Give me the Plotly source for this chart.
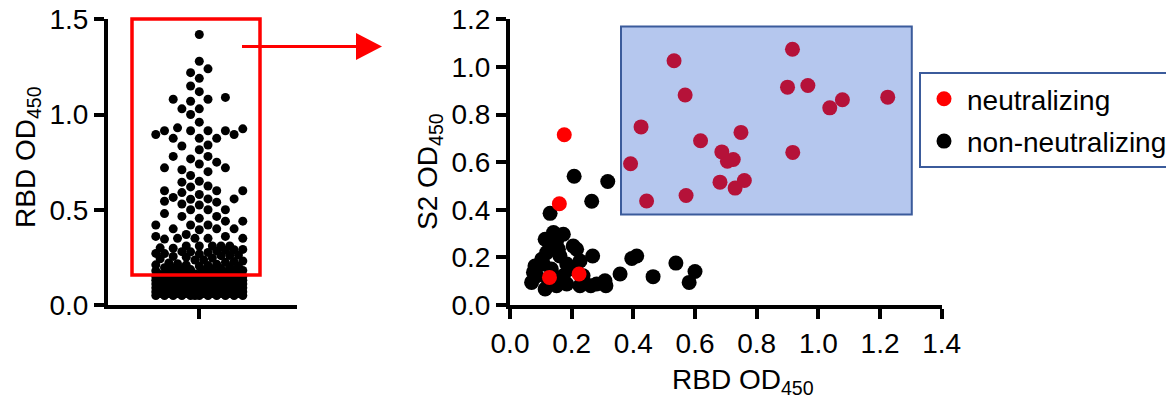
import numpy as np
import plotly.graph_objects as go

W, H = 1166, 401

# ---------------- data: left panel (RBD OD450 of all samples) ----------------
rbd_upper = [1.42, 1.28, 1.24, 1.22, 1.19, 1.15, 1.12, 1.09, 1.08, 1.08, 1.07, 1.03,
             1.03, 1.00, 0.96, 0.93, 0.925, 0.915, 0.915, 0.915, 0.915, 0.895, 0.895,
             0.875, 0.875, 0.875, 0.835, 0.84, 0.815, 0.78, 0.78, 0.767, 0.75, 0.74,
             0.72, 0.72, 0.71, 0.70, 0.68, 0.65, 0.645, 0.625, 0.62, 0.60, 0.60, 0.60,
             0.59, 0.58, 0.565, 0.557, 0.555, 0.557, 0.545, 0.54, 0.53, 0.525, 0.50,
             0.50, 0.50, 0.48, 0.465, 0.465, 0.455, 0.44, 0.44, 0.42, 0.42, 0.42, 0.40,
             0.395, 0.40, 0.40, 0.37, 0.36, 0.36, 0.35, 0.35, 0.35, 0.346, 0.35, 0.31,
             0.31, 0.31, 0.31, 0.31, 0.30]
rbd_mid = [0.298, 0.292, 0.287, 0.284, 0.279, 0.276, 0.271, 0.268, 0.262, 0.259, 0.255,
           0.251, 0.247, 0.243, 0.238, 0.236, 0.231, 0.228, 0.224, 0.221, 0.217, 0.214,
           0.211, 0.208, 0.205, 0.203, 0.199, 0.196, 0.193, 0.191, 0.188, 0.186, 0.183,
           0.181, 0.178, 0.176, 0.174, 0.172, 0.169, 0.167, 0.165, 0.163, 0.161, 0.26,
           0.27, 0.28, 0.29, 0.21, 0.19, 0.18]
# dense low block read as value levels with approximate counts
rbd_block_levels = [0.05, 0.06, 0.07, 0.08, 0.09, 0.10, 0.11, 0.12, 0.13, 0.14, 0.15, 0.16]
rbd_block_counts = [12, 16, 18, 18, 17, 16, 15, 14, 13, 12, 11, 10]

# ---------------- data: right panel (RBD vs S2) ----------------
neut_rbd = [0.532, 0.568, 0.425, 0.391, 0.443, 0.571, 0.618, 0.687, 0.705, 0.724, 0.749,
            0.681, 0.730, 0.760, 0.916, 0.900, 0.966, 1.037, 1.078, 1.225, 0.917,
            0.160, 0.128, 0.224, 0.176]
neut_s2 = [1.026, 0.882, 0.748, 0.593, 0.437, 0.460, 0.690, 0.643, 0.604, 0.611, 0.725,
           0.516, 0.491, 0.523, 1.074, 0.915, 0.922, 0.828, 0.862, 0.873, 0.641,
           0.425, 0.116, 0.130, 0.715]
non_rbd = [0.208, 0.317, 0.265, 0.130, 0.268, 0.395, 0.411, 0.538, 0.600, 0.581, 0.464,
           0.357, 0.308, 0.311, 0.262, 0.141, 0.173, 0.114, 0.130, 0.205, 0.216, 0.119,
           0.162, 0.227, 0.081, 0.184, 0.108, 0.070, 0.114, 0.151, 0.184, 0.227, 0.087,
           0.173, 0.103, 0.151, 0.157, 0.134, 0.194, 0.237, 0.281, 0.076, 0.125, 0.145]
non_s2 = [0.541, 0.519, 0.436, 0.385, 0.206, 0.195, 0.206, 0.176, 0.141, 0.095, 0.119,
          0.130, 0.102, 0.081, 0.081, 0.304, 0.297, 0.276, 0.248, 0.248, 0.234, 0.220,
          0.206, 0.185, 0.164, 0.172, 0.172, 0.095, 0.067, 0.081, 0.088, 0.081, 0.123,
          0.123, 0.192, 0.269, 0.234, 0.151, 0.151, 0.123, 0.088, 0.137, 0.100, 0.090]

legend_names = ["neutralizing", "non-neutralizing"]

# ---------------- layout geometry (pixels) ----------------
L_AX_X0, L_AX_X1 = 108, 297     # left panel x extent
L_CENTER = 199.3                # category tick position
R_AX_X0, R_AX_X1 = 510, 941.7   # right panel x axis 0 .. 1.4
Y_BOT, Y_TOP = 305, 19.3        # y of value 0 and max
FS = 28

def pxx(x):
    return x / W

def pxy(y):
    return 1 - y / H

# beeswarm placement computed from values (GraphPad-like column scatter)
rbd_all = rbd_upper + rbd_mid + [v for v, n in zip(rbd_block_levels, rbd_block_counts) for _ in range(n)]
y_scale = (Y_BOT - Y_TOP) / 1.5
COL_STEP = 8.7
NCOL = 5
DMIN = 9.6

def swarm(values):
    order = sorted(range(len(values)), key=lambda i: values[i])
    main = [0]
    for k in range(1, NCOL + 1):
        main += [-k, k]
    main = [c * COL_STEP for c in main]
    fine = [0.0]
    for k in range(1, 2 * NCOL + 1):
        fine += [-k * COL_STEP / 2, k * COL_STEP / 2]
    placed = []
    xs = [0.0] * len(values)
    for i in order:
        y = values[i] * y_scale
        chosen = None
        for x in main:
            md = min((np.hypot(x - a, y - b) for a, b in placed), default=1e9)
            if md >= DMIN:
                chosen = x
                break
        if chosen is None:
            bestd = -1.0
            for x in fine:
                md = min((np.hypot(x - a, y - b) for a, b in placed), default=1e9)
                if md > bestd + 1e-9:
                    bestd, chosen = md, x
        xs[i] = chosen
        placed.append((chosen, y))
    return xs

swarm_x = swarm(rbd_all)

FONT = "Liberation Sans, Arial, sans-serif"

fig = go.Figure()
fig.add_trace(go.Scatter(x=swarm_x, y=rbd_all, mode="markers", xaxis="x", yaxis="y",
                         marker=dict(size=9, color="black"), showlegend=False,
                         hoverinfo="y"))
fig.add_trace(go.Scatter(x=non_rbd, y=non_s2, mode="markers", xaxis="x2", yaxis="y2",
                         name=legend_names[1], legendgroup="b", legendrank=2,
                         marker=dict(size=15, color="black")))
fig.add_trace(go.Scatter(x=neut_rbd, y=neut_s2, mode="markers", xaxis="x2", yaxis="y2",
                         name=legend_names[0], legendgroup="a", legendrank=1,
                         marker=dict(size=15, color="#ff0000")))

axis_common = dict(showgrid=False, zeroline=False, showline=True, linewidth=4,
                   linecolor="black", ticks="outside", ticklen=10, tickwidth=4,
                   tickcolor="black", tickfont=dict(family=FONT, size=FS, color="black"),
                   automargin=False, fixedrange=True)

ydom = [pxy(Y_BOT), pxy(Y_TOP)]
fig.update_layout(
    width=W, height=H,
    margin=dict(l=0, r=0, t=0, b=0, autoexpand=False),
    paper_bgcolor="white", plot_bgcolor="white",
    font=dict(family=FONT, size=FS, color="black"),
    xaxis=dict(domain=[pxx(L_AX_X0), pxx(L_AX_X1)],
               range=[L_AX_X0 - L_CENTER, L_AX_X1 - L_CENTER],
               tickvals=[0], ticktext=[""], anchor="y", **axis_common),
    yaxis=dict(domain=ydom, range=[0, 1.5], tickvals=[0, 0.5, 1.0, 1.5],
               tickformat=".1f", anchor="x", **axis_common),
    xaxis2=dict(domain=[pxx(R_AX_X0), pxx(R_AX_X1)], range=[0, 1.4],
                tickvals=[0, 0.2, 0.4, 0.6, 0.8, 1.0, 1.2, 1.4], tickformat=".1f",
                anchor="y2", **axis_common),
    yaxis2=dict(domain=ydom, range=[0, 1.2],
                tickvals=[0, 0.2, 0.4, 0.6, 0.8, 1.0, 1.2], tickformat=".1f",
                anchor="x2", **axis_common),
    legend=dict(x=pxx(919), y=pxy(72), xanchor="left", yanchor="top",
                bgcolor="white", bordercolor="#3b5b9b", borderwidth=2,
                font=dict(family=FONT, size=FS, color="black"),
                tracegroupgap=3, itemsizing="trace", itemwidth=36),
    showlegend=True,
    shapes=[
        # red selection box on left panel
        dict(type="rect", xref="paper", yref="paper", x0=pxx(132), x1=pxx(260),
             y0=pxy(275), y1=pxy(19), line=dict(color="#ff0000", width=3.5),
             fillcolor="rgba(0,0,0,0)"),
        # arrow shaft + head
        dict(type="line", xref="paper", yref="paper", x0=pxx(242), x1=pxx(358),
             y0=pxy(46.5), y1=pxy(46.5), line=dict(color="#ff0000", width=3)),
        dict(type="path", xref="paper", yref="paper",
             path=f"M{pxx(356)},{pxy(33)} L{pxx(382)},{pxy(46.5)} L{pxx(356)},{pxy(60)} Z",
             fillcolor="#ff0000", line=dict(color="#ff0000", width=0)),
        # blue highlighted region on right panel
        dict(type="rect", xref="x2", yref="y2", x0=0.36, x1=1.303, y0=0.38, y1=1.17,
             fillcolor="rgba(0,62,197,0.29)", line=dict(color="#3b5b9b", width=2),
             layer="above"),
    ],
    annotations=[
        dict(text="RBD OD<sub>450</sub>", xref="paper", yref="paper", x=pxx(28), y=pxy(157),
             textangle=-90, showarrow=False, xanchor="center", yanchor="middle",
             font=dict(family=FONT, size=FS)),
        dict(text="S2 OD<sub>450</sub>", xref="paper", yref="paper", x=pxx(430), y=pxy(172),
             textangle=-90, showarrow=False, xanchor="center", yanchor="middle",
             font=dict(family=FONT, size=FS)),
        dict(text="RBD OD<sub>450</sub>", xref="paper", yref="paper", x=pxx(743), y=pxy(381),
             showarrow=False, xanchor="center", yanchor="middle",
             font=dict(family=FONT, size=FS)),
    ],
)

fig.write_html("out.html", config={"displayModeBar": False},
               post_script="document.body.style.margin='0';document.body.style.overflow='hidden';")
